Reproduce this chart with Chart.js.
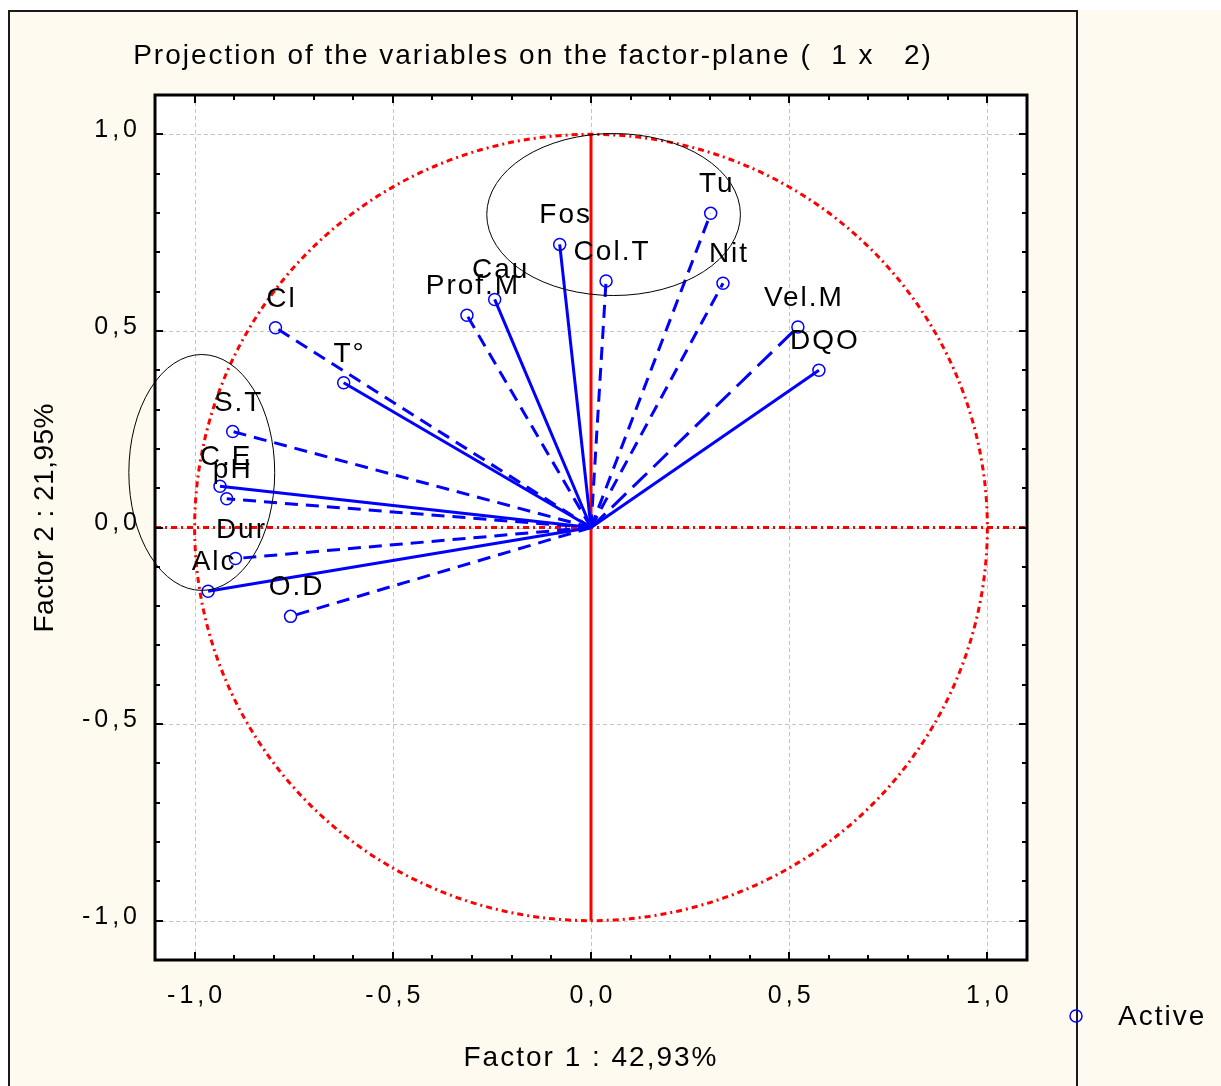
<!DOCTYPE html>
<html>
<head>
<meta charset="utf-8">
<script src="https://cdn.jsdelivr.net/npm/chart.js@4.4.0/dist/chart.umd.min.js"></script>
<style>
  html, body { margin: 0; padding: 0; background: #ffffff; }
  #wrap { width: 1221px; height: 1086px; position: relative; }
  canvas { display: block; }
</style>
</head>
<body>
<div id="wrap"><canvas id="c" width="1221" height="1086"></canvas></div>
<script>
// Variable coordinates on factors 1 and 2
const VARIABLES = ['Tu', 'Nit', 'Vel.M', 'DQO', 'Fos', 'Col.T', 'Cau', 'Prof.M',
                   'Cl', 'T°', 'S.T', 'C.E', 'pH', 'Dur', 'Alc', 'O.D'];
const FACTOR1 = [0.302, 0.333, 0.522, 0.575, -0.079, 0.038, -0.243, -0.313,
                 -0.796, -0.624, -0.904, -0.936, -0.919, -0.897, -0.966, -0.758];
const FACTOR2 = [0.799, 0.621, 0.510, 0.400, 0.720, 0.627, 0.580, 0.540,
                 0.508, 0.368, 0.244, 0.105, 0.073, -0.079, -0.162, -0.226];

// Axis ticks
const TICK_VALUES = [-1.0, -0.5, 0.0, 0.5, 1.0];
const TICK_LABELS = ['-1,0', '-0,5', '0,0', '0,5', '1,0'];
const AXIS_MIN = -1.1;
const AXIS_MAX = 1.1;

// Texts
const TITLE = 'Projection of the variables on the factor-plane (  1 x   2)';
const X_TITLE = 'Factor 1 : 42,93%';
const Y_TITLE = 'Factor 2 : 21,95%';
const LEGEND_LABEL = 'Active';

// Highlighted groups of variables (ellipses in factor units)
const GROUP_CX = [0.057, -0.982];
const GROUP_CY = [0.796, 0.140];
const GROUP_RX = [0.320, 0.184];
const GROUP_RY = [0.206, 0.300];

// Line style of each variable vector
const DASHED = new Set(['Tu', 'Nit', 'Col.T', 'Prof.M', 'Cl', 'S.T', 'pH', 'Dur', 'O.D']);
const LONG_DASHED = new Set(['Vel.M']);

const BLUE = '#0000ff';
const RED = '#ff0000';
const CREAM = '#fffaf0';
const FONT = '"Liberation Sans", Arial, sans-serif';
const TICK_SPACING = 4;

function spacedText(ctx, text, x, y, size, spacing, align) {
  ctx.save();
  ctx.font = size + 'px ' + FONT;
  ctx.letterSpacing = spacing + 'px';
  ctx.textAlign = 'left';
  ctx.textBaseline = 'alphabetic';
  const w = ctx.measureText(text).width - spacing;
  let x0 = x;
  if (align === 'center') x0 = x - w / 2;
  else if (align === 'right') x0 = x - w;
  ctx.fillText(text, x0, y);
  ctx.restore();
}

const vectorSets = VARIABLES.map((name, i) => ({
  label: name,
  data: [{ x: 0, y: 0 }, { x: FACTOR1[i], y: FACTOR2[i] }],
  showLine: true,
  tension: 0,
  borderColor: BLUE,
  borderWidth: 3,
  borderDash: LONG_DASHED.has(name) ? [20, 9] : (DASHED.has(name) ? [13, 8] : []),
  pointRadius: [0, 6],
  pointHoverRadius: [0, 6],
  pointStyle: 'circle',
  pointBorderColor: BLUE,
  pointBackgroundColor: 'rgba(0,0,0,0)',
  pointBorderWidth: 1.5,
  order: 1
}));

const axisSets = [
  {
    label: 'axis-v',
    data: [{ x: 0, y: -1 }, { x: 0, y: 1 }],
    showLine: true, borderColor: RED, borderWidth: 3, pointRadius: 0, order: 3
  },
  {
    label: 'axis-h',
    data: [{ x: AXIS_MIN, y: 0 }, { x: AXIS_MAX, y: 0 }],
    showLine: true, borderColor: RED, borderWidth: 3, borderDash: [6, 4, 2, 4],
    pointRadius: 0, order: 3
  }
];

const decor = {
  id: 'decor',
  beforeDraw(chart) {
    const ctx = chart.ctx;
    const a = chart.chartArea;
    ctx.save();
    ctx.fillStyle = '#ffffff';
    ctx.fillRect(0, 0, chart.width, chart.height);
    ctx.fillStyle = CREAM;
    ctx.fillRect(8, 10, chart.width - 8, chart.height - 10);
    ctx.strokeStyle = '#1a1a1a';
    ctx.lineWidth = 2;
    ctx.beginPath();
    ctx.moveTo(9, chart.height + 2);
    ctx.lineTo(9, 11);
    ctx.lineTo(1077, 11);
    ctx.lineTo(1077, chart.height + 2);
    ctx.stroke();
    ctx.fillStyle = '#ffffff';
    ctx.fillRect(a.left, a.top, a.right - a.left, a.bottom - a.top);
    ctx.restore();
    // tick labels are drawn with the same wide spacing
    ctx.letterSpacing = TICK_SPACING + 'px';
  },
  beforeDatasetsDraw(chart) {
    const ctx = chart.ctx;
    ctx.letterSpacing = '0px';
    const a = chart.chartArea;
    const xs = chart.scales.x, ys = chart.scales.y;
    ctx.save();
    // dashed grid at the labelled ticks
    ctx.strokeStyle = '#c4c4c4';
    ctx.lineWidth = 1;
    ctx.setLineDash([4, 3]);
    TICK_VALUES.forEach(v => {
      const px = Math.round(xs.getPixelForValue(v)) + 0.5;
      ctx.beginPath(); ctx.moveTo(px, a.top); ctx.lineTo(px, a.bottom); ctx.stroke();
      const py = Math.round(ys.getPixelForValue(v)) + 0.5;
      ctx.beginPath(); ctx.moveTo(a.left, py); ctx.lineTo(a.right, py); ctx.stroke();
    });
    // unit correlation circle
    const cx = xs.getPixelForValue(0), cy = ys.getPixelForValue(0);
    const rx = xs.getPixelForValue(1) - cx, ry = cy - ys.getPixelForValue(1);
    ctx.strokeStyle = RED;
    ctx.lineWidth = 3;
    ctx.setLineDash([6, 4, 2, 4]);
    ctx.beginPath();
    ctx.ellipse(cx, cy, rx, ry, 0, 0, Math.PI * 2);
    ctx.stroke();
    ctx.restore();
  },
  afterDatasetsDraw(chart) {
    const ctx = chart.ctx;
    const a = chart.chartArea;
    const xs = chart.scales.x, ys = chart.scales.y;
    ctx.save();
    ctx.fillStyle = '#000000';
    // variable names above their points
    VARIABLES.forEach((name, i) => {
      const px = xs.getPixelForValue(FACTOR1[i]);
      const py = ys.getPixelForValue(FACTOR2[i]);
      spacedText(ctx, name, px + 5, py - 21, 28, 2, 'center');
    });
    // group ellipses
    ctx.strokeStyle = '#000000';
    ctx.lineWidth = 1;
    GROUP_CX.forEach((gx, i) => {
      const cx = xs.getPixelForValue(gx), cy = ys.getPixelForValue(GROUP_CY[i]);
      const rx = xs.getPixelForValue(gx + GROUP_RX[i]) - cx;
      const ry = cy - ys.getPixelForValue(GROUP_CY[i] + GROUP_RY[i]);
      ctx.beginPath();
      ctx.ellipse(cx, cy, rx, ry, 0, 0, Math.PI * 2);
      ctx.stroke();
    });
    // inward tick marks on all four sides
    ctx.strokeStyle = '#000000';
    ctx.lineWidth = 2;
    for (let k = -11; k <= 11; k++) {
      const v = k / 10;
      const len = (k % 5 === 0) ? 8 : 5;
      const px = Math.round(xs.getPixelForValue(v));
      const py = Math.round(ys.getPixelForValue(v));
      ctx.beginPath();
      ctx.moveTo(px, a.bottom); ctx.lineTo(px, a.bottom - len);
      ctx.moveTo(px, a.top); ctx.lineTo(px, a.top + len);
      ctx.moveTo(a.left, py); ctx.lineTo(a.left + len, py);
      ctx.moveTo(a.right, py); ctx.lineTo(a.right - len, py);
      ctx.stroke();
    }
    // plot frame
    ctx.lineWidth = 3;
    ctx.strokeRect(a.left, a.top, a.right - a.left, a.bottom - a.top);
    ctx.restore();
  },
  afterDraw(chart) {
    const ctx = chart.ctx;
    ctx.save();
    ctx.fillStyle = '#000000';
    spacedText(ctx, TITLE, 532, 64, 28, 2, 'center');
    spacedText(ctx, X_TITLE, 590, 1066, 28, 2, 'center');
    ctx.save();
    ctx.translate(53, 518);
    ctx.rotate(-Math.PI / 2);
    spacedText(ctx, Y_TITLE, 0, 0, 28, 0.5, 'center');
    ctx.restore();
    // legend
    ctx.strokeStyle = BLUE;
    ctx.lineWidth = 1.5;
    ctx.beginPath();
    ctx.arc(1076, 1016, 6, 0, Math.PI * 2);
    ctx.stroke();
    spacedText(ctx, LEGEND_LABEL, 1118, 1025, 28, 2, 'left');
    ctx.restore();
  }
};

function tickLabel(value) {
  const i = TICK_VALUES.findIndex(t => Math.abs(t - value) < 1e-9);
  return i >= 0 ? TICK_LABELS[i] : '';
}

new Chart(document.getElementById('c'), {
  type: 'scatter',
  data: { datasets: vectorSets.concat(axisSets) },
  options: {
    responsive: false,
    animation: false,
    events: [],
    layout: { padding: { left: 0, top: 95, right: 194, bottom: 0 } },
    plugins: { legend: { display: false }, tooltip: { enabled: false }, title: { display: false } },
    scales: {
      x: {
        type: 'linear', min: AXIS_MIN, max: AXIS_MAX,
        afterBuildTicks: s => { s.ticks = TICK_VALUES.map(v => ({ value: v })); },
        afterFit: s => { s.height = 126; },
        grid: { display: false, drawTicks: false },
        border: { display: false },
        ticks: {
          autoSkip: false, maxRotation: 0, padding: 21, labelOffset: TICK_SPACING / 2,
          color: '#000000', font: { family: FONT, size: 25 },
          callback: v => tickLabel(v)
        }
      },
      y: {
        type: 'linear', min: AXIS_MIN, max: AXIS_MAX,
        afterBuildTicks: s => { s.ticks = TICK_VALUES.map(v => ({ value: v })); },
        afterFit: s => { s.width = 155; },
        grid: { display: false, drawTicks: false },
        border: { display: false },
        ticks: {
          autoSkip: false, padding: 18 - TICK_SPACING, labelOffset: -4,
          color: '#000000', font: { family: FONT, size: 25 },
          callback: v => tickLabel(v)
        }
      }
    }
  },
  plugins: [decor]
});
</script>
</body>
</html>
